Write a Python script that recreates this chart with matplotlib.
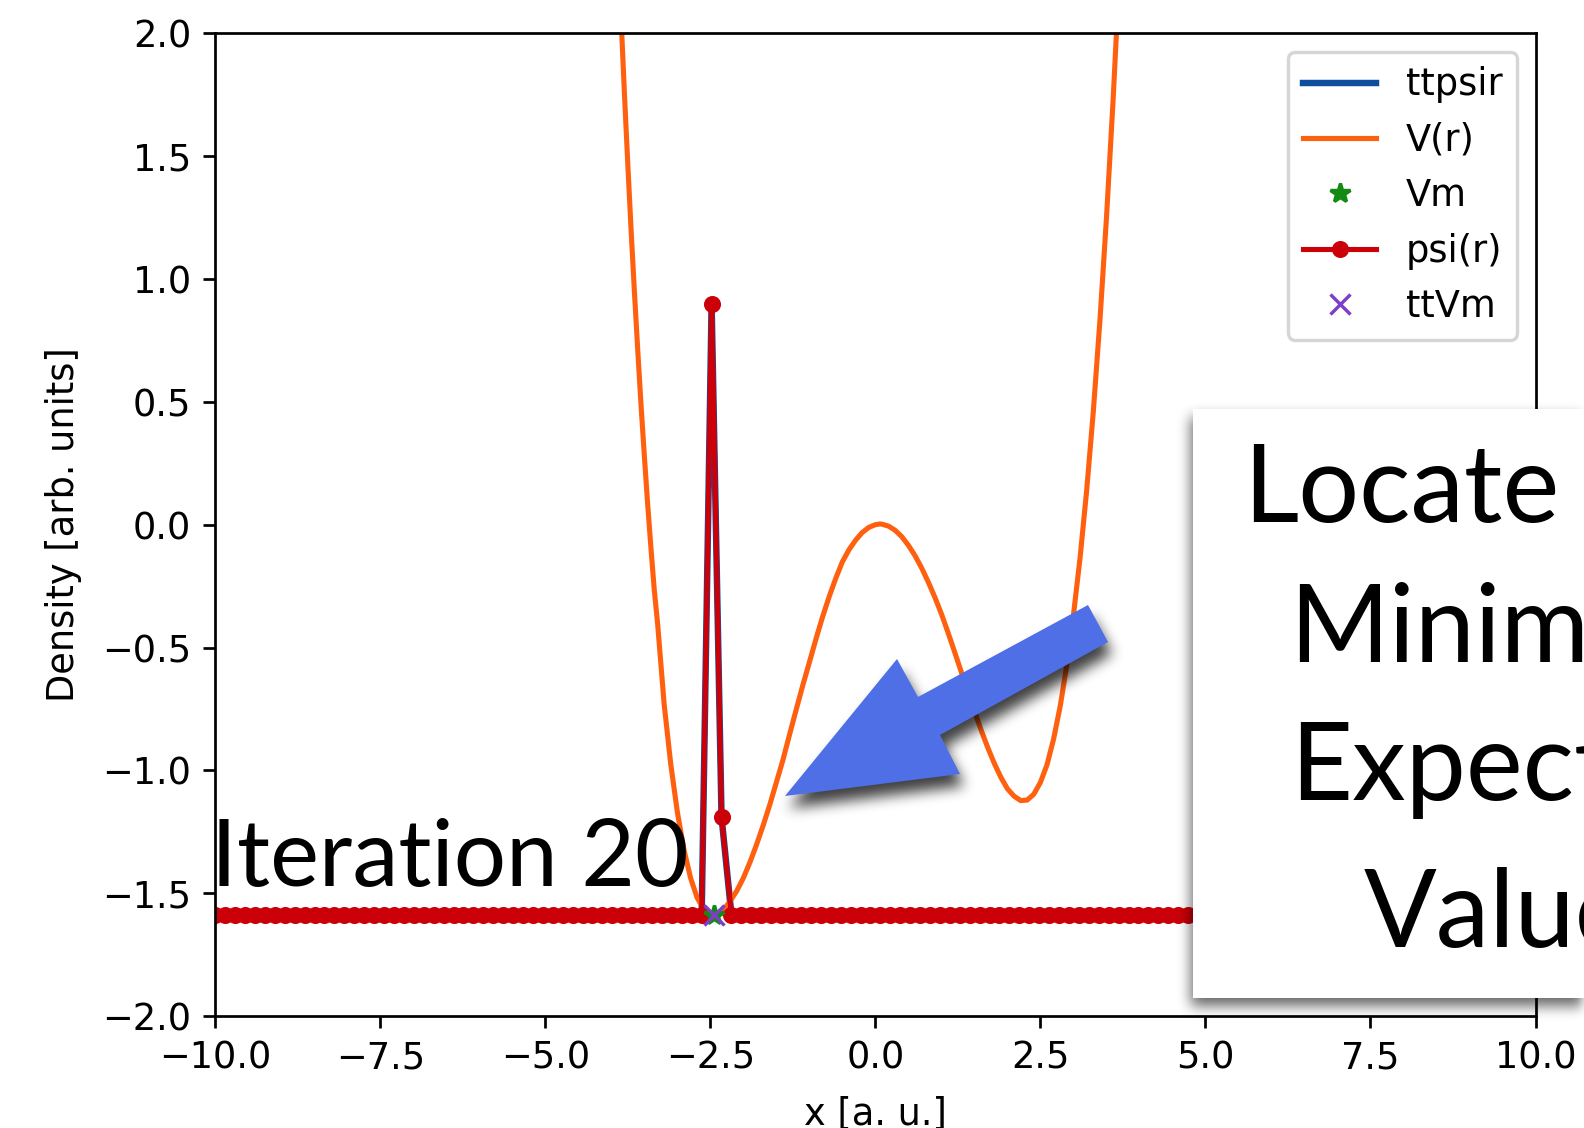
import numpy as np
import matplotlib
matplotlib.use("Agg")
import matplotlib.pyplot as plt
from matplotlib.path import Path
from matplotlib.patches import Polygon, Rectangle

# ---------------- data ----------------
# potential V(r)
V_x = [-3.90, -3.85, -3.80, -3.75, -3.70, -3.65, -3.60, -3.55, -3.50, -3.45,
       -3.40, -3.35, -3.30, -3.20, -3.10, -3.00, -2.90, -2.80, -2.70, -2.60,
       -2.50, -2.45, -2.40, -2.30, -2.20, -2.10, -2.00, -1.90, -1.80, -1.70,
       -1.60, -1.50, -1.40, -1.30, -1.20, -1.10, -1.00, -0.90, -0.80, -0.70,
       -0.60, -0.50, -0.40, -0.30, -0.20, -0.10, 0.00, 0.07, 0.10, 0.20,
       0.30, 0.40, 0.50, 0.60, 0.70, 0.80, 0.90, 1.00, 1.10, 1.20,
       1.30, 1.40, 1.50, 1.60, 1.70, 1.80, 1.90, 2.00, 2.10, 2.20,
       2.30, 2.40, 2.50, 2.60, 2.70, 2.80, 2.90, 3.00, 3.10, 3.20,
       3.30, 3.40, 3.50, 3.60, 3.70]
V_y = [2.350, 2.046, 1.745, 1.463, 1.195, 0.945, 0.710, 0.486, 0.280, 0.084,
       -0.095, -0.265, -0.400, -0.731, -0.975, -1.170, -1.323, -1.438, -1.519, -1.565,
       -1.587, -1.592, -1.587, -1.568, -1.532, -1.491, -1.438, -1.374, -1.302, -1.224,
       -1.140, -1.049, -0.957, -0.854, -0.753, -0.654, -0.560, -0.465, -0.375, -0.293,
       -0.218, -0.151, -0.102, -0.063, -0.032, -0.011, 0.000, 0.003, 0.002, -0.006,
       -0.023, -0.049, -0.084, -0.126, -0.176, -0.233, -0.295, -0.363, -0.439, -0.518,
       -0.599, -0.679, -0.758, -0.835, -0.906, -0.971, -1.028, -1.075, -1.105, -1.123,
       -1.121, -1.097, -1.049, -0.977, -0.872, -0.738, -0.571, -0.368, -0.136, 0.138,
       0.457, 0.826, 1.247, 1.724, 2.262]

# wave function psi(r) on the grid (offset by Vm)
n_grid = 134
grid_x = np.linspace(-10, 10, n_grid)
psi = [-1.59] * 50 + [0.90, -1.19] + [-1.59] * 82
ttpsir = list(psi)

# minimum of the potential
Vm_x, Vm_y = [-2.45], [-1.59]
ttVm_x, ttVm_y = [-2.45], [-1.59]

x_ticks = [-10.0, -7.5, -5.0, -2.5, 0.0, 2.5, 5.0, 7.5, 10.0]
y_ticks = [-2.0, -1.5, -1.0, -0.5, 0.0, 0.5, 1.0, 1.5, 2.0]

box_lines = ["Locate", "Minimum", "Expectation", "Value"]
iter_text = "Iteration 20"

# ---------------- figure ----------------
plt.rcParams["font.size"] = 10.8
W, H, DPI = 1584, 1128, 245
fig = plt.figure(figsize=(W / DPI, H / DPI), dpi=DPI)
ax = fig.add_axes([0.1359, 0.0993, 0.8335, 0.8711])

ax.plot(grid_x, ttpsir, color="#0d4f9e", lw=1.9, label="ttpsir")
ax.plot(V_x, V_y, color="#ff6010", lw=1.5, label="V(r)")
ax.plot(Vm_x, Vm_y, "*", color="#138a13", ms=6, label="Vm", zorder=4)
ax.plot(grid_x, psi, "-o", color="#cc0008", lw=1.5, ms=4, label="psi(r)")
ax.plot(ttVm_x, ttVm_y, "x", color="#7d3fc8", ms=6, label="ttVm", zorder=5)

ax.set_xlim(-10, 10)
ax.set_ylim(-2, 2)
ax.set_xticks(x_ticks)
ax.set_yticks(y_ticks)
ax.set_xlabel("x [a. u.]", labelpad=5.5)
ax.set_ylabel("Density [arb. units]", labelpad=6)
ax.legend(loc="upper right")

# ---------------- overlay (pixel coordinates) ----------------
ov = fig.add_axes([0, 0, 1, 1], zorder=10)
ov.set_axis_off()
ov.patch.set_alpha(0)


def blur(a, r, passes=3):
    for _ in range(passes):
        p = np.pad(a, ((0, 0), (r + 1, r)))
        c = np.cumsum(p, axis=1)
        a = (c[:, 2 * r + 1:] - c[:, :-(2 * r + 1)]) / (2 * r + 1)
        p = np.pad(a, ((r + 1, r), (0, 0)))
        c = np.cumsum(p, axis=0)
        a = (c[2 * r + 1:, :] - c[:-(2 * r + 1), :]) / (2 * r + 1)
    return a


yy, xx = np.mgrid[0:H, 0:W]
pts = np.column_stack([xx.ravel() + 0.5, yy.ravel() + 0.5])


def shadow_image(verts, dx, dy, r, strength):
    v = np.asarray(verts, float) + [dx, dy]
    m = Path(v).contains_points(pts).reshape(H, W).astype(float)
    a = blur(m, r) * strength
    img = np.zeros((H, W, 4))
    img[..., 3] = np.clip(a, 0, 1)
    return img


# box
bx0, by0, bx1, by1 = 1193, 409, 1640, 998
box_verts = [(bx0, by0), (bx1, by0), (bx1, by1), (bx0, by1)]
ov.imshow(shadow_image(box_verts, -2, 8, 6, 0.6), extent=(0, W, H, 0),
          interpolation="bilinear", zorder=1)
ov.add_patch(Rectangle((bx0, by0), bx1 - bx0, by1 - by0, facecolor="white",
                       edgecolor="none", zorder=2))

# arrow
arrow_verts = [(785, 796), (897, 659), (918, 697), (1088, 605), (1108, 642),
               (940, 735), (960, 774)]
ov.imshow(shadow_image(arrow_verts, 4, 12, 6, 0.75), extent=(0, W, H, 0),
          interpolation="bilinear", zorder=3)
ov.add_patch(Polygon(arrow_verts, closed=True, facecolor="#4f6fe6",
                     edgecolor="none", zorder=4))

# texts
tfam = ["Lato", "DejaVu Sans"]
ov.text(211, 886, iter_text, fontsize=27.2, family=tfam, ha="left",
        va="baseline", color="black", zorder=6)
box_pos = [(1243, 522), (1289, 662), (1290, 800), (1364, 947)]
for (tx, ty), s in zip(box_pos, box_lines):
    ov.text(tx, ty, s, fontsize=31.6, family=tfam, ha="left", va="baseline",
            color="black", zorder=6, clip_on=False)

ov.set_xlim(0, W)
ov.set_ylim(H, 0)
ov.set_aspect("auto")

fig.savefig("out.png", dpi=DPI)
